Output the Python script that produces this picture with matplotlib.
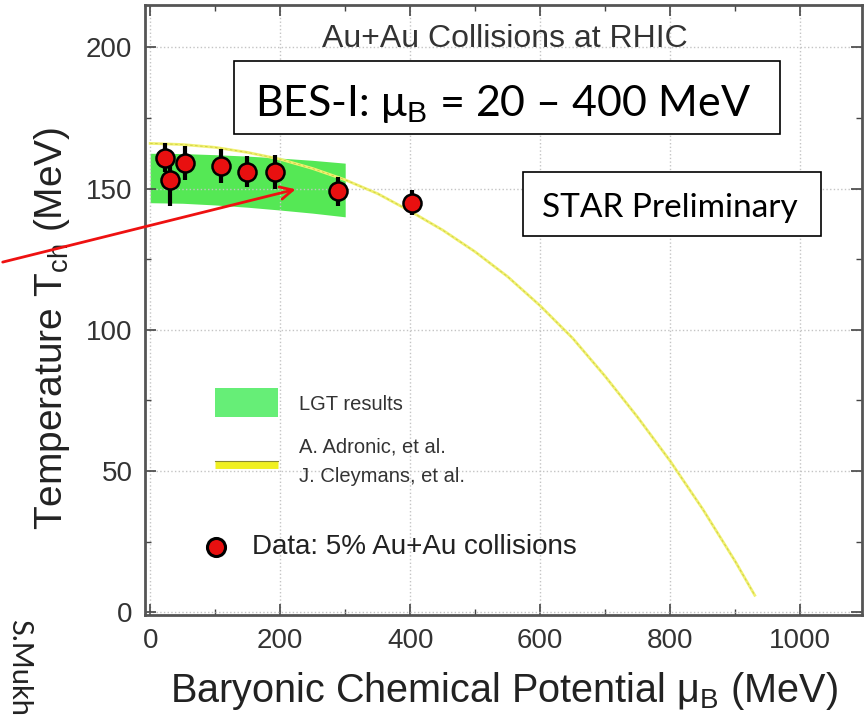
import numpy as np
import matplotlib
matplotlib.use("Agg")
import matplotlib.pyplot as plt
from matplotlib.patches import Rectangle
from matplotlib.ticker import MultipleLocator

plt.rcParams['font.family'] = ['Liberation Sans', 'DejaVu Sans']
plt.rcParams['mathtext.fontset'] = 'custom'
plt.rcParams['mathtext.rm'] = 'Liberation Sans'

# chemical freeze-out points (mu_B, T_ch, error)
mu_b = [23, 31, 54, 109, 149, 192, 289, 402]
t_ch = [161, 153, 159, 158, 156, 156, 149, 145]
t_err = [5, 9, 6, 6, 5.5, 6, 5, 4.5]

# lattice band edges
lgt_mu = [0, 50, 100, 150, 200, 250, 300]
lgt_hi = [162.5, 162.4, 162.0, 161.5, 160.8, 160.0, 159.0]
lgt_lo = [145.0, 144.8, 144.2, 143.4, 142.4, 141.3, 140.0]

# statistical model freeze-out curve
curve_mu = [0, 50, 100, 150, 200, 250, 300, 350, 400, 450, 500, 550, 600,
            650, 700, 750, 800, 850, 900, 930]
curve_t = [166, 165.6, 164.6, 162.8, 160.4, 157.1, 153.1, 148.2, 142.0, 135.3,
           127.6, 118.8, 108.5, 97.0, 83.5, 69.0, 53.5, 36.5, 18.0, 6.0]

fig = plt.figure(figsize=(8.66, 7.16), dpi=100)
ax = fig.add_axes([0.1674, 0.141, 0.828, 0.852])

ax.fill_between(lgt_mu, lgt_lo, lgt_hi, color='#55e855', lw=0, zorder=1)
ax.plot(curve_mu, curve_t, color='#f0f070', lw=2, zorder=2)
ax.plot(curve_mu, curve_t, color='#cccc40', lw=0.6, ls=(0, (3, 3)), zorder=2)
ax.errorbar(mu_b, t_ch, yerr=t_err, fmt='o', ms=13, mfc='#e81010', mec='black',
            mew=1.8, ecolor='black', elinewidth=3, capsize=0, zorder=4)

# hand-placed legend
ax.add_patch(Rectangle((100, 69), 97, 10.3, color='#66ee77', lw=0, zorder=3))
ax.text(229, 73.5, 'LGT results', fontsize=14.5, va='center', color='#333333')
ax.plot([100, 197], [52, 52], color='#f0f020', lw=5, solid_capstyle='butt', zorder=3)
ax.plot([100, 197], [53.7, 53.7], color='#8a8a30', lw=0.8, zorder=3)
ax.text(229, 58.5, 'A. Adronic, et al.', fontsize=14.5, va='center', color='#333333')
ax.text(229, 48, 'J. Cleymans, et al.', fontsize=14.5, va='center', color='#333333')
ax.plot([101], [23], 'o', ms=13, mfc='#e81010', mec='black', mew=2.2, zorder=4)
ax.text(157, 23, 'Data: 5% Au+Au collisions', fontsize=20, va='center',
        color='#222222')

ax.text(546, 200, 'Au+Au Collisions at RHIC', fontsize=23, ha='center',
        va='baseline', color='#333333')

# annotation boxes
ax.add_patch(Rectangle((0.124, 0.789), 0.762, 0.119, transform=ax.transAxes,
                       fc='white', ec='black', lw=1.2, zorder=6))
ax.text(0.499, 0.818, 'BES-I: μ$_{\\rm B}$ = 20 – 400 MeV', transform=ax.transAxes,
        fontsize=31, family=['Lato', 'DejaVu Sans'], ha='center', va='baseline',
        zorder=7)
ax.add_patch(Rectangle((0.527, 0.621), 0.416, 0.105, transform=ax.transAxes,
                       fc='white', ec='black', lw=1.2, zorder=6))
ax.text(0.732, 0.652, 'STAR Preliminary', transform=ax.transAxes, fontsize=24,
        family=['Lato', 'DejaVu Sans'], ha='center', va='baseline', zorder=7)

ax.set_xlim(-8, 1095)
ax.set_ylim(-1, 215)
ax.xaxis.set_major_locator(MultipleLocator(200))
ax.xaxis.set_minor_locator(MultipleLocator(100))
ax.yaxis.set_major_locator(MultipleLocator(50))
ax.yaxis.set_minor_locator(MultipleLocator(25))
ax.tick_params(which='both', direction='in', top=True, right=True, colors='#444444',
               labelcolor='#333333')
ax.tick_params(which='major', length=8, width=1.2, labelsize=20, pad=9)
ax.tick_params(which='minor', length=4, width=1)
ax.grid(True, which='major', ls=':', color='#c4c4c4', lw=1)
for s in ax.spines.values():
    s.set_color('#555555')
    s.set_linewidth(2)

ax.set_xlabel('Baryonic Chemical Potential μ$_{\\rm B}$ (MeV)', fontsize=28.5,
              color='#222222', labelpad=12)
ax.set_ylabel('Temperature T$_{\\rm ch}$ (MeV)', fontsize=28, color='#222222')
ax.yaxis.set_label_coords(-0.102, 0.47)

fig.text(0.022, 0.068, 'S.Mukh', fontsize=21, family=['Lato', 'DejaVu Sans'],
         rotation=-90, ha='center', va='center', color='#222222')

# red arrow from the slide edge into the band
ax.annotate('', xy=(228, 150), xycoords='data', xytext=(0, 0.633),
            textcoords='figure fraction',
            arrowprops=dict(arrowstyle='->,head_length=0.9,head_width=0.45',
                            color='#ee1111', lw=2), zorder=8, annotation_clip=False)

fig.savefig('out.png', dpi=100)
